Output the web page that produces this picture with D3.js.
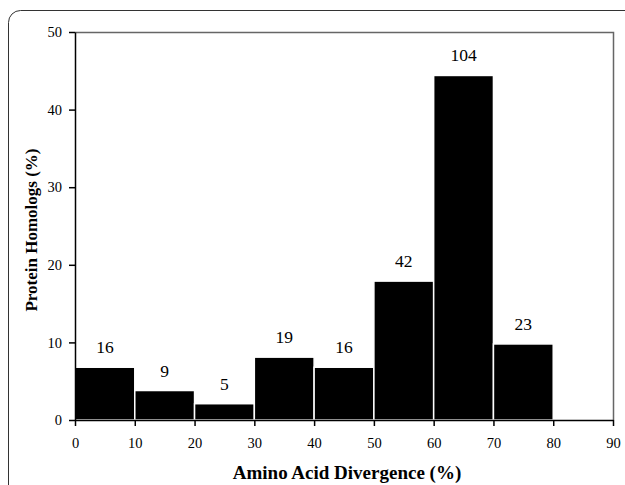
<!DOCTYPE html>
<html><head><meta charset="utf-8">
<script src="https://cdn.jsdelivr.net/npm/d3@7/dist/d3.min.js"></script>
<style>body{margin:0;background:#fff}svg{display:block}</style>
</head><body>
<svg id="c" width="625" height="485"></svg>
<script>
const binStarts = [0, 10, 20, 30, 40, 50, 60, 70];
const binWidth = 10;
const percents = [6.8, 3.8, 2.1, 8.1, 6.8, 17.9, 44.4, 9.8];
const counts = [16, 9, 5, 19, 16, 42, 104, 23];
const xTicks = [0, 10, 20, 30, 40, 50, 60, 70, 80, 90];
const yTicks = [0, 10, 20, 30, 40, 50];

const svg = d3.select("#c");
const font = "Liberation Serif";
const x = d3.scaleLinear().domain([0, 90]).range([75, 613]);
const y = d3.scaleLinear().domain([0, 50]).range([420, 32]);

// outer frame
svg.append("rect").attr("x", 8.5).attr("y", 10.5).attr("width", 640).attr("height", 500)
  .attr("rx", 12).attr("fill", "none").attr("stroke", "#333").attr("stroke-width", 1);

// plot box top & right
svg.append("path")
  .attr("d", `M${x(0)},${y(50)+0.5}H${x(90)+0.5}V${y(0)}`)
  .attr("fill", "none").attr("stroke", "#666").attr("stroke-width", 1.5);

// bars
svg.append("g").selectAll("rect").data(binStarts).join("rect")
  .attr("x", d => x(d))
  .attr("width", d => x(d + binWidth) - x(d))
  .attr("y", (d, i) => y(percents[i]))
  .attr("height", (d, i) => y(0) - y(percents[i]))
  .attr("fill", "#000").attr("stroke", "#fff").attr("stroke-width", 1.5);

// value labels
svg.append("g").selectAll("text").data(binStarts).join("text")
  .attr("x", d => x(d + binWidth / 2))
  .attr("y", (d, i) => y(percents[i]) - 14)
  .attr("text-anchor", "middle")
  .attr("font-family", font).attr("font-size", 17.5).attr("fill", "#000")
  .text((d, i) => counts[i]);

// axes
const xAxis = svg.append("g").attr("transform", `translate(0,${y(0)})`)
  .call(d3.axisBottom(x).tickValues(xTicks).tickSize(6).tickSizeOuter(0).tickPadding(12));
const yAxis = svg.append("g").attr("transform", `translate(${x(0)},0)`)
  .call(d3.axisLeft(y).tickValues(yTicks).tickSize(6).tickSizeOuter(0).tickPadding(7));
[xAxis, yAxis].forEach(g => {
  g.select(".domain").attr("stroke", "#000").attr("stroke-width", 1.5);
  g.selectAll(".tick line").attr("stroke", "#000").attr("stroke-width", 1.5);
  g.selectAll(".tick text").attr("font-family", font).attr("font-size", 14.5).attr("fill", "#000");
});

// titles
svg.append("text").attr("x", 347).attr("y", 479).attr("text-anchor", "middle")
  .attr("font-family", font).attr("font-size", 19).attr("font-weight", "bold").attr("fill", "#000")
  .text("Amino Acid Divergence (%)");
svg.append("text").attr("transform", `translate(37,230) rotate(-90)`).attr("text-anchor", "middle")
  .attr("font-family", font).attr("font-size", 17).attr("font-weight", "bold").attr("fill", "#000")
  .text("Protein Homologs (%)");
</script>
</body></html>
